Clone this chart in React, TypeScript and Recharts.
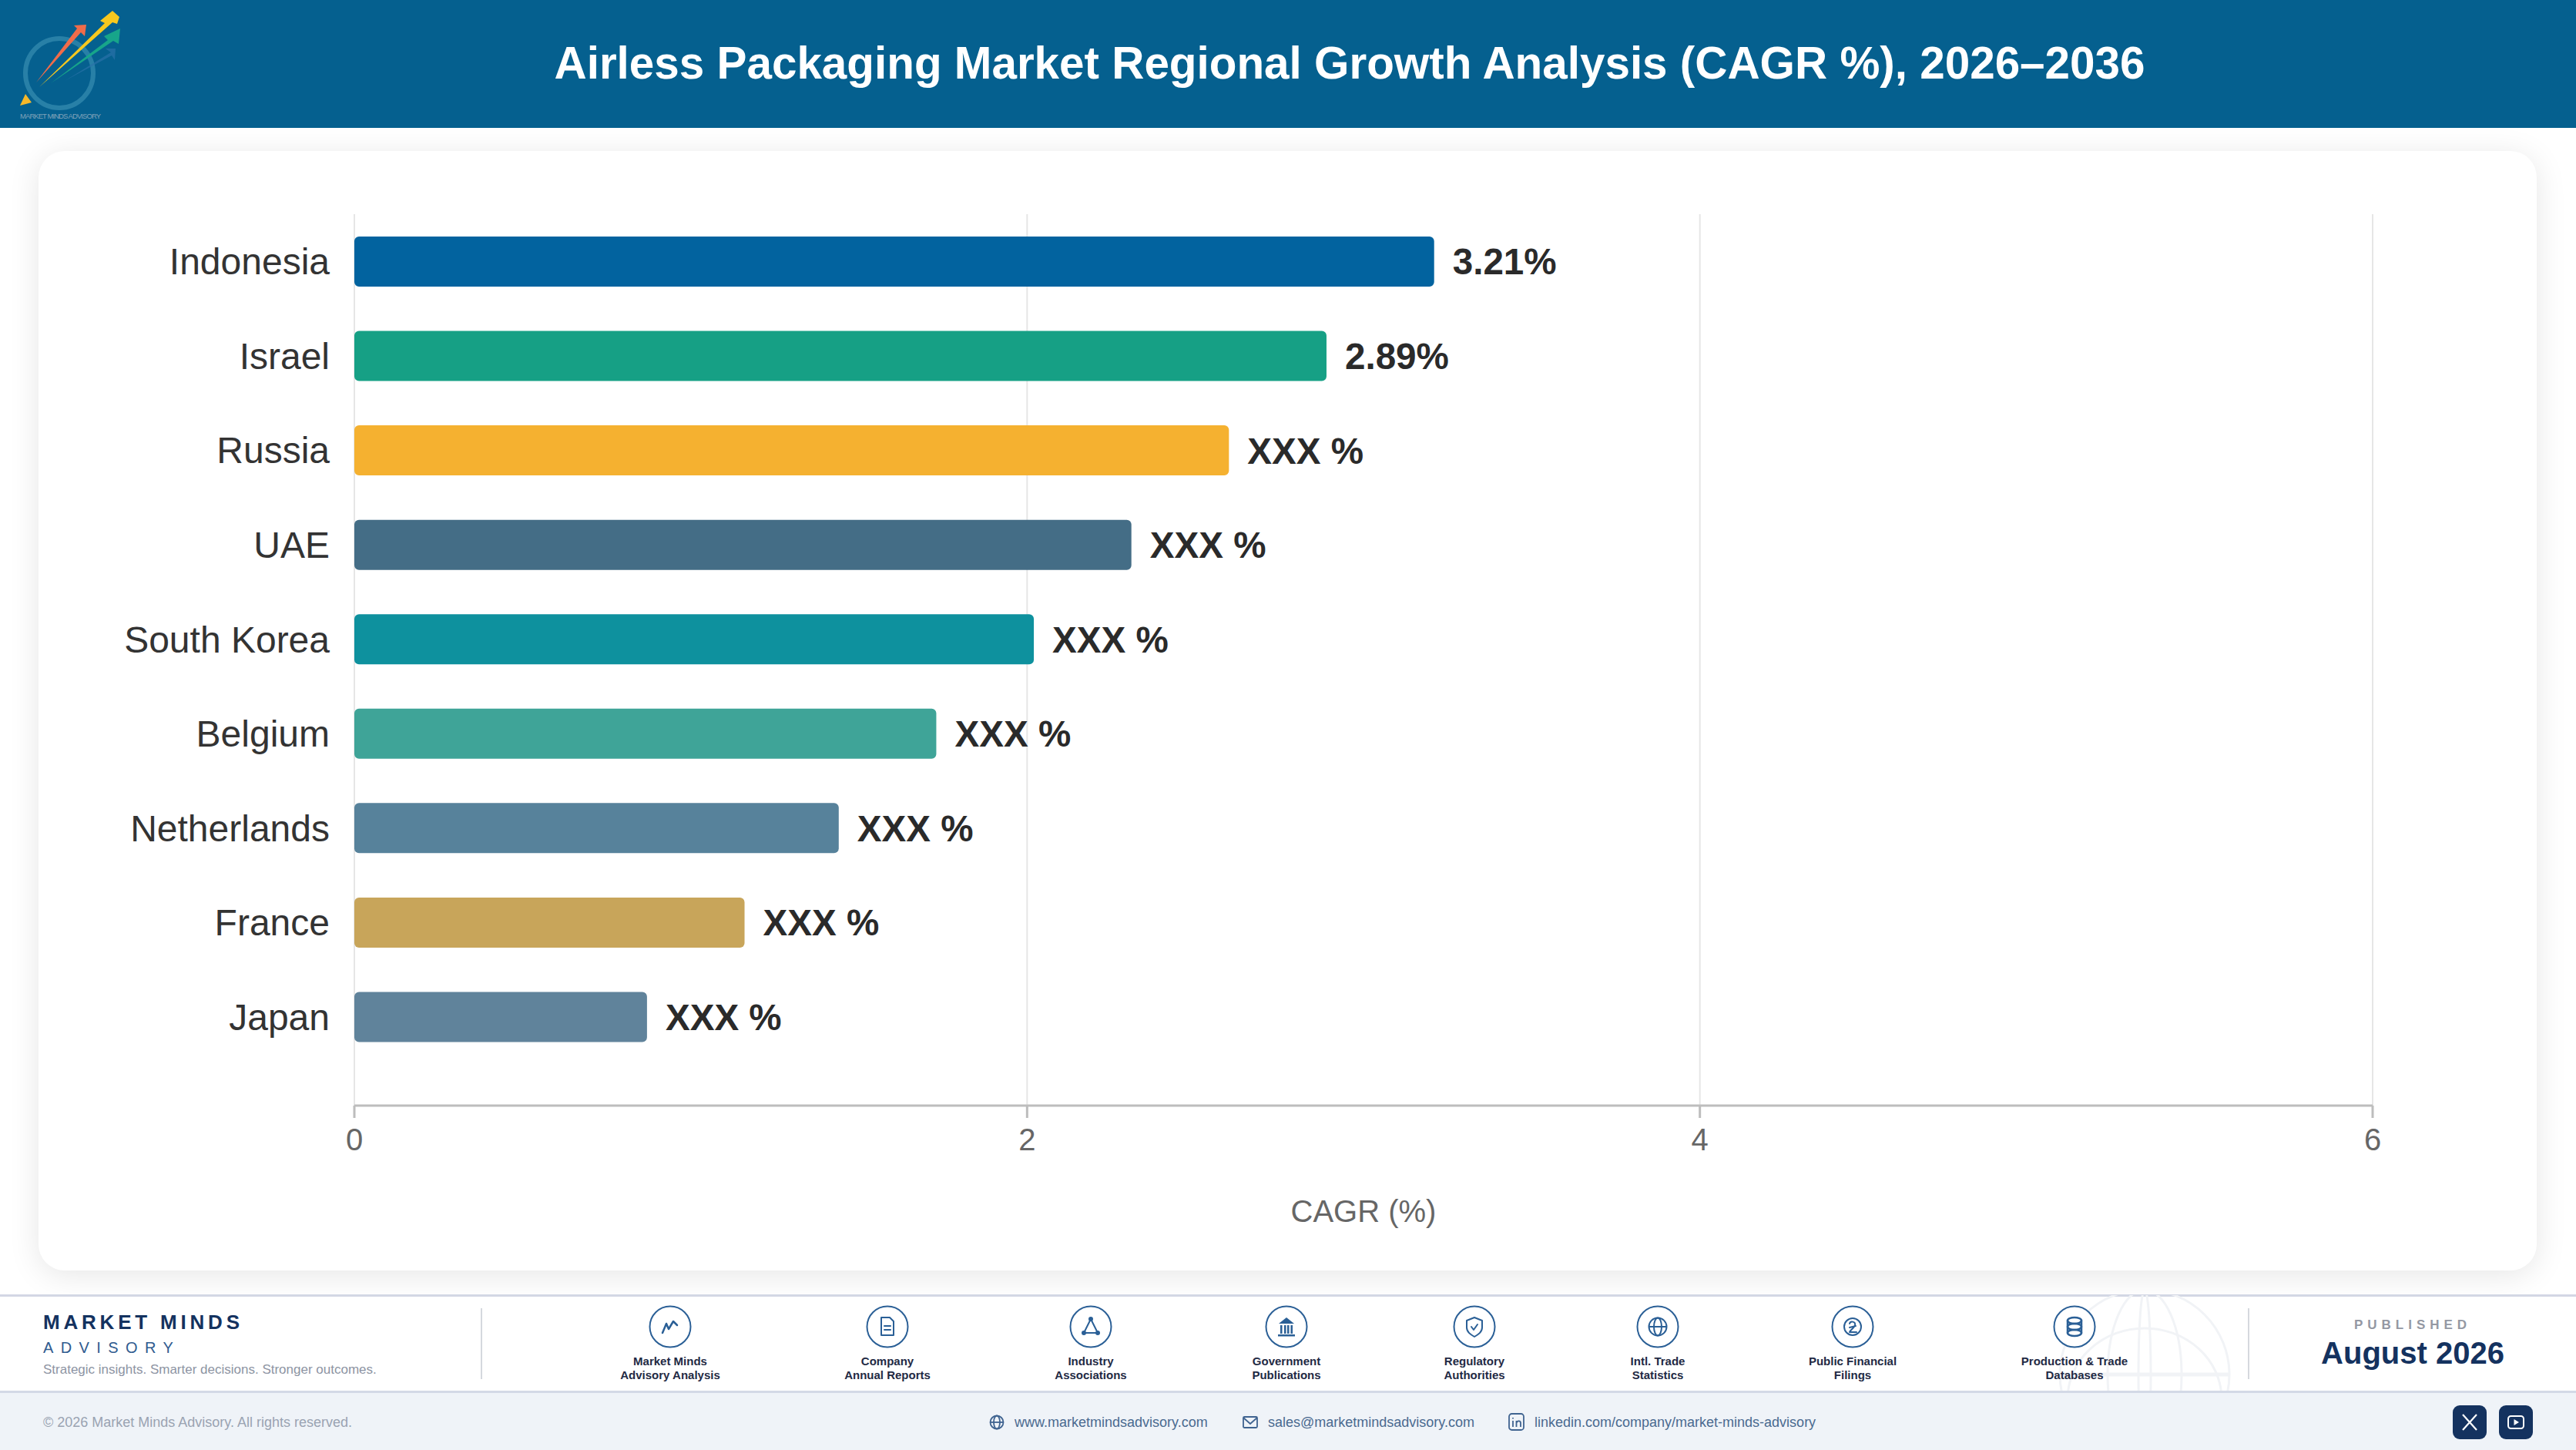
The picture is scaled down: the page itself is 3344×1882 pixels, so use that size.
import React from "react";
import { Bar, BarChart, CartesianGrid, Cell, LabelList, XAxis, YAxis } from "recharts";

const categories = ["Indonesia", "Israel", "Russia", "UAE", "South Korea", "Belgium", "Netherlands", "France", "Japan"];
const cagrValues = [3.21, 2.89, 2.6, 2.31, 2.02, 1.73, 1.44, 1.16, 0.87];
const valueLabels = ["3.21%", "2.89%", "XXX %", "XXX %", "XXX %", "XXX %", "XXX %", "XXX %", "XXX %"];
const barColors = ["#02639f", "#16a085", "#f5b130", "#446d86", "#0e919e", "#3fa498", "#57829b", "#c8a55a", "#60839b"];
const xTicks = [0, 2, 4, 6];

const sourceNames = [
  ["Market Minds", "Advisory Analysis"],
  ["Company", "Annual Reports"],
  ["Industry", "Associations"],
  ["Government", "Publications"],
  ["Regulatory", "Authorities"],
  ["Intl. Trade", "Statistics"],
  ["Public Financial", "Filings"],
  ["Production & Trade", "Databases"],
];
const sourceCenters = [870, 1152, 1416, 1670, 1914, 2152, 2405, 2693];

const chartData = categories.map((name, i) => ({ name, value: cagrValues[i], label: valueLabels[i] }));

const FONT = '"Liberation Sans", Arial, sans-serif';
const NAVY = "#14325f";
const ICON_BLUE = "#2a5f96";

function SourceGlyph({ index }: { index: number }) {
  const s = { fill: "none", stroke: ICON_BLUE, strokeWidth: 2, strokeLinejoin: "round" as const, strokeLinecap: "round" as const };
  switch (index) {
    case 0:
      return <path d="M18 36 L23 24 L26 31 L32 21 L37 26" {...s} strokeWidth={2.5} />;
    case 1:
      return (
        <g {...s}>
          <path d="M20 16 H31 L36 21 V39 H20 Z" />
          <path d="M24 27 H32 M24 32 H32" />
        </g>
      );
    case 2:
      return (
        <g {...s}>
          <path d="M28 18 L37 36 H19 Z" />
          <circle cx="28" cy="18" r="2" fill={ICON_BLUE} />
          <circle cx="19" cy="36" r="2" fill={ICON_BLUE} />
          <circle cx="37" cy="36" r="2" fill={ICON_BLUE} />
        </g>
      );
    case 3:
      return (
        <g fill={ICON_BLUE}>
          <path d="M28 16 L38 24 H18 Z" />
          <path d="M20 26 h2.5 v11 h-2.5 Z M25 26 h2.5 v11 h-2.5 Z M29 26 h2.5 v11 h-2.5 Z M33.5 26 h2.5 v11 h-2.5 Z" />
          <rect x="17" y="38" width="22" height="2.5" />
        </g>
      );
    case 4:
      return (
        <g {...s}>
          <path d="M28 16 L38 20 V29 C38 35 33 38 28 41 C23 38 18 35 18 29 V20 Z" />
          <path d="M24 28 L27 32 L32 25" />
        </g>
      );
    case 5:
      return (
        <g {...s}>
          <circle cx="28" cy="28" r="11.5" />
          <ellipse cx="28" cy="28" rx="5" ry="11.5" />
          <path d="M17 28 H39" />
        </g>
      );
    case 6:
      return (
        <g {...s}>
          <circle cx="28" cy="28" r="11" />
          <path d="M24 24 C25 20 32 21 31 26 C30 30 25 32 24 35 H33 M24 29 L32 27" />
        </g>
      );
    default:
      return (
        <g {...s} strokeWidth={2.5}>
          <ellipse cx="28" cy="20" rx="9" ry="4" />
          <ellipse cx="28" cy="28" rx="9" ry="4" />
          <ellipse cx="28" cy="36" rx="9" ry="4" />
          <path d="M19 20 V36 M37 20 V36" />
        </g>
      );
  }
}

function Logo() {
  return (
    <svg width={170} height={166} style={{ position: "absolute", left: 0, top: 0 }}>
      <ellipse cx="77" cy="95" rx="44" ry="45" fill="none" stroke="#2f86ab" strokeWidth="6" opacity="0.85" />
      <path d="M84 105 L144 68 L137 63 L150 63 L149 78 L145 72 Z" fill="#2a72a8" opacity="0.7" />
      <path d="M47 107 L100 37 L96 33 L112 32 L110 47 L105 42 Z" fill="#ef6c4a" />
      <path d="M51 113 L136 30 L130 27 L146 14 L155 22 L152 31 L146 29 Z" fill="#f7c81e" />
      <path d="M66 108 L140 52 L135 47 L156 37 L154 57 L147 53 Z" fill="#17a58a" />
      <path d="M26 137 L41 133 L33 122 Z" fill="#f6b82a" />
      <text x="26" y="154" fontSize="9.5" fill="#9fb4c4" fontFamily={FONT} textLength="105" opacity="0.8">
        MARKET MINDS ADVISORY
      </text>
    </svg>
  );
}

function GlobeMark() {
  return (
    <svg width={240} height={126} style={{ position: "absolute", left: 2664, top: 1681 }}>
      <g fill="none" stroke="#f1f3f6" strokeWidth="3">
        <circle cx="120" cy="103" r="110" />
        <ellipse cx="120" cy="103" rx="48" ry="110" />
        <ellipse cx="120" cy="103" rx="8" ry="110" />
        <ellipse cx="120" cy="135" rx="100" ry="92" />
        <path d="M10 103 H230" strokeWidth="5" />
      </g>
    </svg>
  );
}

function FooterLinks() {
  const text: React.CSSProperties = { position: "absolute", top: 1835, fontSize: 18, lineHeight: "22px", color: "#4a6a90" };
  const s = { fill: "none", stroke: "#3f6390", strokeWidth: 1.8 };
  return (
    <>
      <svg width={20} height={20} style={{ position: "absolute", left: 1284, top: 1836 }} {...s}>
        <circle cx="10" cy="10" r="8.5" />
        <ellipse cx="10" cy="10" rx="4" ry="8.5" />
        <path d="M1.5 10 H18.5" />
      </svg>
      <div style={{ ...text, left: 1317 }}>www.marketmindsadvisory.com</div>
      <svg width={20} height={18} style={{ position: "absolute", left: 1613, top: 1837 }} {...s}>
        <rect x="1" y="2" width="18" height="14" rx="1.5" />
        <path d="M1 3 L10 11 L19 3" />
      </svg>
      <div style={{ ...text, left: 1646 }}>sales@marketmindsadvisory.com</div>
      <svg width={22} height={24} style={{ position: "absolute", left: 1958, top: 1834 }} {...s}>
        <rect x="1" y="1" width="19" height="21" rx="3.5" />
        <path d="M6 10 V18 M6 6 V7.5 M10.5 18 V10 M10.5 13 C11.5 9.5 16 9.5 16 13 V18" />
      </svg>
      <div style={{ ...text, left: 1992 }}>linkedin.com/company/market-minds-advisory</div>
    </>
  );
}

function Footer() {
  return (
    <>
      <div style={{ position: "absolute", left: 0, top: 1680, width: 3344, height: 126, background: "#fff", borderTop: "3px solid #d3d7e4", boxSizing: "border-box" }} />
      <GlobeMark />
      <div style={{ position: "absolute", left: 0, top: 1805, width: 3344, height: 77, background: "#eff3f8", borderTop: "3px solid #d3d9e6", boxSizing: "border-box" }} />

      <div style={{ position: "absolute", left: 56, top: 1701, fontSize: 26, lineHeight: "30px", fontWeight: 700, letterSpacing: 4.8, color: NAVY }}>MARKET MINDS</div>
      <div style={{ position: "absolute", left: 56, top: 1737, fontSize: 20, lineHeight: "24px", letterSpacing: 9.4, color: "#2f5b8f" }}>ADVISORY</div>
      <div style={{ position: "absolute", left: 56, top: 1767, fontSize: 17, lineHeight: "22px", color: "#8d94a3" }}>Strategic insights. Smarter decisions. Stronger outcomes.</div>

      <div style={{ position: "absolute", left: 624, top: 1698, width: 2, height: 92, background: "#d5d8de" }} />
      <div style={{ position: "absolute", left: 2918, top: 1698, width: 2, height: 92, background: "#d5d8de" }} />

      {sourceNames.map((lines, i) => (
        <div key={lines[0]} style={{ position: "absolute", left: sourceCenters[i] - 120, top: 1694, width: 240, textAlign: "center" }}>
          <svg width={56} height={56} style={{ display: "block", margin: "0 auto" }}>
            <circle cx="28" cy="28" r="26.5" fill="#fff" stroke={ICON_BLUE} strokeWidth="2" />
            <SourceGlyph index={i} />
          </svg>
          <div style={{ marginTop: 8, fontSize: 15, lineHeight: "18px", fontWeight: 700, color: "#1f2a44" }}>
            {lines[0]}
            <br />
            {lines[1]}
          </div>
        </div>
      ))}

      <div style={{ position: "absolute", left: 2982, top: 1710, width: 300, textAlign: "center", fontSize: 17, lineHeight: "20px", fontWeight: 700, letterSpacing: 6, color: "#9498a3" }}>PUBLISHED</div>
      <div style={{ position: "absolute", left: 2982, top: 1733, width: 300, textAlign: "center", fontSize: 40, lineHeight: "46px", fontWeight: 700, color: NAVY }}>August 2026</div>

      <div style={{ position: "absolute", left: 56, top: 1835, fontSize: 18, lineHeight: "22px", color: "#9aa3b2" }}>© 2026 Market Minds Advisory. All rights reserved.</div>
      <FooterLinks />

      <svg width={44} height={44} style={{ position: "absolute", left: 3184, top: 1824 }}>
        <rect width="44" height="44" rx="9" fill={NAVY} />
        <path d="M13 12 L31 32 M31 12 L13 32" stroke="#fff" strokeWidth="2.2" />
      </svg>
      <svg width={44} height={44} style={{ position: "absolute", left: 3244, top: 1824 }}>
        <rect width="44" height="44" rx="9" fill={NAVY} />
        <rect x="12" y="14" width="20" height="16" rx="3.5" fill="none" stroke="#fff" strokeWidth="2" />
        <path d="M19.5 18 L26 22 L19.5 26 Z" fill="#fff" />
      </svg>
    </>
  );
}

export default function App() {
  return (
    <div style={{ position: "absolute", left: 0, top: 0, width: 3344, height: 1882, overflow: "hidden", background: "#fff", fontFamily: FONT }}>
      <div style={{ position: "absolute", left: 0, top: 0, width: 3344, height: 166, background: "#05608f" }} />
      <Logo />
      <div style={{ position: "absolute", left: 0, top: 47, width: 3504, textAlign: "center", fontSize: 58.4, lineHeight: "70px", fontWeight: 700, color: "#fff" }}>
        Airless Packaging Market Regional Growth Analysis (CAGR %), 2026–2036
      </div>

      <div style={{ position: "absolute", left: 50, top: 196, width: 3243, height: 1453, background: "#fff", borderRadius: 34, boxShadow: "0 6px 40px rgba(0,0,0,0.1)" }}>
        <BarChart
          width={3243}
          height={1453}
          data={chartData}
          layout="vertical"
          margin={{ top: 82, right: 213, bottom: 63, left: 0 }}
          style={{ fontFamily: FONT }}
        >
          <CartesianGrid horizontal={false} stroke="#e6e6e6" strokeWidth={2} />
          <XAxis
            type="number"
            domain={[0, 6]}
            ticks={xTicks}
            height={151}
            tickSize={16}
            tickMargin={14}
            tick={{ fontSize: 40, fill: "#666666" }}
            stroke="#bdbdbd"
            strokeWidth={3}
            label={{ value: "CAGR (%)", position: "insideBottom", offset: 0, fontSize: 40, fill: "#666666" }}
          />
          <YAxis
            type="category"
            dataKey="name"
            width={410}
            padding={{ top: 0, bottom: 54 }}
            axisLine={false}
            tickLine={false}
            tickSize={0}
            tickMargin={32}
            interval={0}
            tick={{ fontSize: 48, fill: "#333333" }}
          />
          <Bar dataKey="value" barSize={65} radius={[6, 6, 6, 6]} isAnimationActive={false}>
            {chartData.map((d, i) => (
              <Cell key={d.name} fill={barColors[i]} />
            ))}
            <LabelList dataKey="label" position="right" offset={24} fontSize={47.6} fontWeight={700} fill="#2a2a2a" />
          </Bar>
        </BarChart>
      </div>

      <Footer />
    </div>
  );
}
